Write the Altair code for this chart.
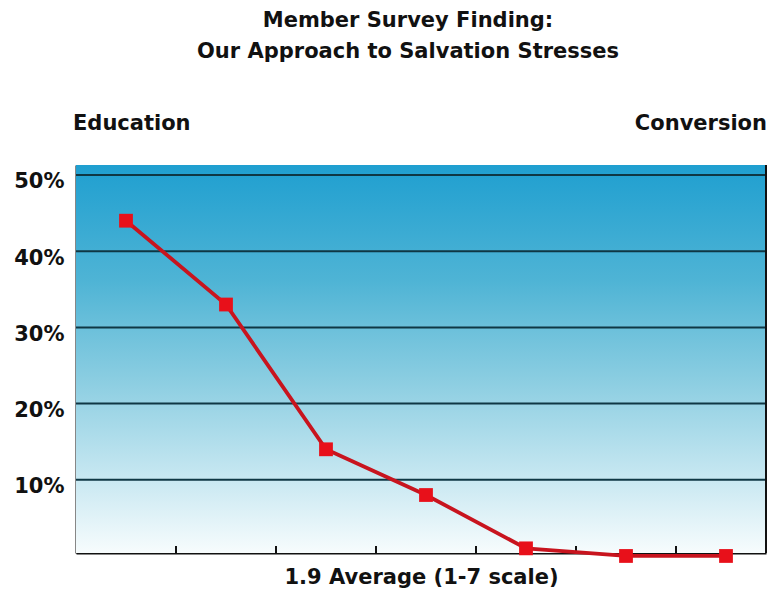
import altair as alt
import pandas as pd

# Data
scale_points = [1, 2, 3, 4, 5, 6, 7]
percent_values = [44, 33, 14, 8, 1, 0, 0]
grid_values = [10, 20, 30, 40, 50]
tick_positions = [1.5, 2.5, 3.5, 4.5, 5.5, 6.5]

W, H = 690, 388
FONT = "DejaVu Sans"

df = pd.DataFrame({"x": scale_points, "y": percent_values})
grid_df = pd.DataFrame({"g": grid_values})
tick_df = pd.DataFrame({"t": tick_positions})
one = pd.DataFrame({"a": [0]})

xscale = alt.Scale(domain=[0.5, 7.4], nice=False, zero=False)
yscale = alt.Scale(domain=[0.39, 51.31], nice=False, zero=False)

bg = alt.Chart(one).mark_rect(
    color=alt.Gradient(
        gradient="linear",
        stops=[
            alt.GradientStop(color="#1f9fd0", offset=0),
            alt.GradientStop(color="#4fb4d5", offset=0.3),
            alt.GradientStop(color="#8acde1", offset=0.55),
            alt.GradientStop(color="#c6e7f1", offset=0.8),
            alt.GradientStop(color="#f7fcfd", offset=1),
        ],
        x1=0, x2=0, y1=0, y2=1,
    )
).encode(x=alt.value(0), x2=alt.value(W), y=alt.value(0), y2=alt.value(H))

grid = alt.Chart(grid_df).mark_rule(color="#0f3744", strokeWidth=2).encode(
    y=alt.Y("g:Q", scale=yscale,
            axis=alt.Axis(values=grid_values, labelExpr="datum.value + '%'",
                          title=None, ticks=False, grid=False,
                          domainColor="#111111", domainWidth=2,
                          labelFont=FONT, labelFontSize=21, labelFontWeight="bold",
                          labelColor="#111111", labelPadding=12, labelOffset=7)),
    x=alt.value(0), x2=alt.value(W),
)

ticks = alt.Chart(tick_df).mark_rule(color="#111111", strokeWidth=2).encode(
    x=alt.X("t:Q", scale=xscale,
            axis=alt.Axis(title="1.9 Average (1-7 scale)", labels=False, ticks=False,
                          grid=False, domainColor="#111111", domainWidth=2,
                          titleFont=FONT, titleFontSize=21, titleFontWeight="bold",
                          titleColor="#111111", titlePadding=13)),
    y=alt.value(H), y2=alt.value(H - 7),
)

right_border = alt.Chart(one).mark_rule(color="#111111", strokeWidth=2).encode(
    x=alt.value(W), y=alt.value(0), y2=alt.value(H)
)

line = alt.Chart(df).mark_line(color="#c8141e", strokeWidth=3.8, clip=False).encode(
    x=alt.X("x:Q", scale=xscale), y=alt.Y("y:Q", scale=yscale)
)
pts = alt.Chart(df).mark_point(shape="square", filled=True, size=190, color="#e8101a",
                               opacity=1, clip=False).encode(
    x=alt.X("x:Q", scale=xscale), y=alt.Y("y:Q", scale=yscale)
)

edu = alt.Chart(one).mark_text(text="Education", align="left", baseline="middle",
                               font=FONT, fontSize=21, fontWeight="bold", color="#111111").encode(
    x=alt.value(-3), y=alt.value(-41))
conv = alt.Chart(one).mark_text(text="Conversion", align="right", baseline="middle",
                                font=FONT, fontSize=21, fontWeight="bold", color="#111111").encode(
    x=alt.value(W + 1), y=alt.value(-41))

chart = alt.layer(bg, grid, ticks, right_border, line, pts, edu, conv).properties(
    width=W, height=H,
    title=alt.TitleParams(
        text="Member Survey Finding:",
        subtitle="Our Approach to Salvation Stresses",
        font=FONT, fontSize=21, fontWeight="bold", color="#111111",
        subtitleFont=FONT, subtitleFontSize=21, subtitleFontWeight="bold",
        subtitleColor="#111111", subtitlePadding=10,
        anchor="middle", offset=51, dx=-13,
    ),
    autosize=alt.AutoSizeParams(type="none"),
    padding={"left": 68, "top": 157, "right": 3, "bottom": 53},
).configure_view(stroke=None).configure(background="white")

chart.save("out.html", embed_options={"renderer": "svg", "actions": False})
